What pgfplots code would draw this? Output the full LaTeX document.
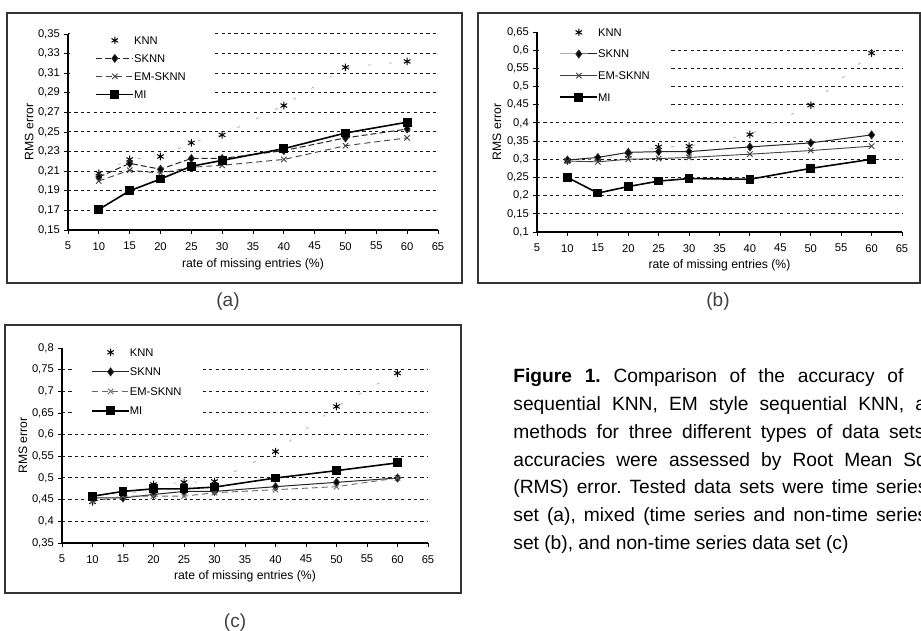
\documentclass[border=0pt]{standalone}
\usepackage{fontspec}
\setmainfont{Liberation Sans}
\usepackage{pgfplots}
\usepackage{pgfplotstable}
\pgfplotsset{compat=1.18}

\pgfplotstableread{
x knn sknn em mi
10 0.208 0.204 0.200 0.171
15 0.222 0.218 0.211 0.190
20 0.225 0.212 0.208 0.202
25 0.239 0.223 0.214 0.215
30 0.247 0.223 0.216 0.221
40 0.277 0.231 0.222 0.233
50 0.316 0.244 0.236 0.249
60 0.322 0.253 0.244 0.260
}\dataA
\pgfplotstableread{
x knn sknn em mi
10 0.296 0.298 0.295 0.250
15 0.302 0.305 0.293 0.207
20 0.311 0.319 0.300 0.225
25 0.334 0.321 0.302 0.240
30 0.336 0.321 0.305 0.247
40 0.368 0.334 0.314 0.245
50 0.449 0.345 0.324 0.275
60 0.592 0.367 0.336 0.300
}\dataB
\pgfplotstableread{
x knn sknn em mi
10 0.445 0.454 0.446 0.458
15 0.455 0.454 0.458 0.469
20 0.485 0.462 0.458 0.475
25 0.490 0.469 0.458 0.475
30 0.492 0.469 0.466 0.479
40 0.561 0.480 0.473 0.500
50 0.665 0.490 0.480 0.517
60 0.742 0.500 0.500 0.535
}\dataC

\pgfplotsset{
  rms/.style={
    scale only axis,
    axis x line*=bottom, axis y line*=left,
    axis line style={line width=0.6bp, black},
    xmin=5, xmax=65, xtick={5,10,...,65},
    tick align=outside, major tick length=1.8bp,
    tick style={line width=0.45bp, black},
    ticklabel style={font=\fontsize{5.6bp}{6.5bp}\selectfont, inner sep=0.6bp},
    xticklabel style={yshift=-3.5bp},
    yticklabel style={xshift=-1.5bp, /pgf/number format/fixed, /pgf/number format/precision=2},
    /pgf/number format/use comma,
    /pgf/number format/1000 sep={},
    /pgf/number format/assume math mode=true,
    extra y tick style={grid=major, major tick length=0pt},
    extra y tick labels={},
    grid style={black!90, line width=0.5bp, dash pattern=on 1.6bp off 1.6bp},
    label style={font=\fontsize{6.1bp}{7bp}\selectfont},
    xlabel={rate of missing entries (\%)},
    ylabel={RMS error},
    legend cell align=left,
    legend image code/.code={\draw[mark repeat=2,mark phase=2,##1] plot coordinates {(0bp,0bp) (9.25bp,0bp) (18.5bp,0bp)};},
    legend style={draw=none, fill=white, anchor=north west,
      font=\fontsize{5.6bp}{6.5bp}\selectfont,
      nodes={inner sep=0pt, text height=4bp, text depth=0pt},
      /tikz/every even column/.append style={column sep=2bp}},
  },
  knnline/.style={forget plot, black!30, line width=0.4bp, dash pattern=on 1.5bp off 9bp, mark=none},
  knnmark/.style={only marks, black, mark=asterisk, mark size=1.9bp, mark options={line width=0.5bp}},
  sknn/.style={black!85, line width=0.5bp, mark=diamond*, mark size=1.9bp, mark options={solid, fill=black}},
  em/.style={black!75, line width=0.45bp, mark=x, mark size=1.9bp, mark options={solid}},
  mi/.style={black, line width=0.8bp, mark=square*, mark size=1.8bp, mark options={solid, fill=black}},
}

\begin{document}
\frenchspacing
\begin{tikzpicture}
\useasboundingbox (0,0) rectangle (460.5bp,315.5bp);
\fill[white] (0,0) rectangle (460.5bp,315.5bp);
% panel frames
\draw[line width=0.75bp, black!80] (3.5bp,174bp) rectangle (231bp,309bp);
\draw[line width=0.75bp, black!80] (239bp,174bp) rectangle (460bp,309bp);
\draw[line width=0.75bp, black!80] (2.5bp,19bp) rectangle (230.5bp,153bp);
% panel labels
\node[font=\fontsize{9.5bp}{11bp}\selectfont, text=black!75] at (114bp,164.5bp) {(a)};
\node[font=\fontsize{9.5bp}{11bp}\selectfont, text=black!75] at (359bp,164.5bp) {(b)};
\node[font=\fontsize{9.5bp}{11bp}\selectfont, text=black!75] at (117.5bp,4bp) {(c)};

% ---------- (a)
\begin{axis}[rms,
  at={(34bp,200.5bp)}, anchor=south west,
  width=185bp, height=98bp,
  ymin=0.15, ymax=0.35,
  ytick={0.15,0.17,...,0.351},
  extra y ticks={0.17,0.19,...,0.351},
  xlabel style={at={(axis description cs:0.5,-0.173)}, anchor=center},
  ylabel style={at={(axis description cs:-0.105,0.5)}, anchor=center},
  legend style={at={(0.003,1.0204)}, inner xsep=13bp, inner ysep=3bp, row sep=5bp},
]
\addplot[knnline] table[x=x,y=knn]{\dataA};
\addplot[knnmark] table[x=x,y=knn]{\dataA};
\addlegendentry{KNN}
\addplot[sknn, dash pattern=on 3bp off 1.5bp] table[x=x,y=sknn]{\dataA};
\addlegendentry{SKNN}
\addplot[em, dash pattern=on 3bp off 2bp] table[x=x,y=em]{\dataA};
\addlegendentry{EM-SKNN}
\addplot[mi] table[x=x,y=mi]{\dataA};
\addlegendentry{MI}
\end{axis}

% ---------- (b)
\begin{axis}[rms,
  at={(268.5bp,199.5bp)}, anchor=south west,
  width=182.5bp, height=100bp,
  ymin=0.1, ymax=0.65,
  ytick={0.1,0.15,...,0.651},
  extra y ticks={0.15,0.2,...,0.61},
  xlabel style={at={(axis description cs:0.5,-0.165)}, anchor=center},
  ylabel style={at={(axis description cs:-0.11,0.5)}, anchor=center},
  legend style={at={(0.003,1.06)}, inner xsep=10.5bp, inner ysep=4bp, row sep=6.8bp},
]
\addplot[knnline] table[x=x,y=knn]{\dataB};
\addplot[knnmark] table[x=x,y=knn]{\dataB};
\addlegendentry{KNN}
\addplot[sknn] table[x=x,y=sknn]{\dataB};
\addlegendentry{SKNN}
\addplot[em] table[x=x,y=em]{\dataB};
\addlegendentry{EM-SKNN}
\addplot[mi] table[x=x,y=mi]{\dataB};
\addlegendentry{MI}
\end{axis}

% ---------- (c)
\begin{axis}[rms,
  at={(31bp,44bp)}, anchor=south west,
  width=183bp, height=97.5bp,
  ymin=0.35, ymax=0.8,
  ytick={0.35,0.4,...,0.801},
  extra y ticks={0.4,0.45,...,0.76},
  xlabel style={at={(axis description cs:0.5,-0.169)}, anchor=center},
  ylabel style={at={(axis description cs:-0.107,0.5)}, anchor=center},
  legend style={at={(0.027,1.031)}, inner xsep=9.5bp, inner ysep=3bp, row sep=5.75bp},
]
\addplot[knnline] table[x=x,y=knn]{\dataC};
\addplot[knnmark] table[x=x,y=knn]{\dataC};
\addlegendentry{KNN}
\addplot[sknn] table[x=x,y=sknn]{\dataC};
\addlegendentry{SKNN}
\addplot[em, black!60, dash pattern=on 3bp off 2bp] table[x=x,y=em]{\dataC};
\addlegendentry{EM-SKNN}
\addplot[mi] table[x=x,y=mi]{\dataC};
\addlegendentry{MI}
\end{axis}

% ---------- caption
\begin{scope}
\clip (0,0) rectangle (460.5bp,315.5bp);
\begin{scope}[every node/.style={anchor=base west, inner sep=0pt, font=\fontsize{9.6bp}{11.5bp}\selectfont}]
\node at (256.5bp,124bp) {\makebox[195bp][s]{\textbf{Figure 1.} Comparison of the accuracy of}};
\node at (256.5bp,110.15bp) {\makebox[217bp][s]{sequential KNN, EM style sequential KNN, and}};
\node at (256.5bp,96.3bp) {\makebox[205.5bp][s]{methods for three different types of data sets}};
\node at (256.5bp,82.45bp) {\makebox[226bp][s]{accuracies were assessed by Root Mean Square}};
\node at (256.5bp,68.6bp) {\makebox[207bp][s]{(RMS) error. Tested data sets were time series}};
\node at (256.5bp,54.75bp) {\makebox[207bp][s]{set (a), mixed (time series and non-time series}};
\node at (256.5bp,40.9bp) {set (b), and non-time series data set (c)};
\end{scope}
\end{scope}
\end{tikzpicture}
\end{document}
